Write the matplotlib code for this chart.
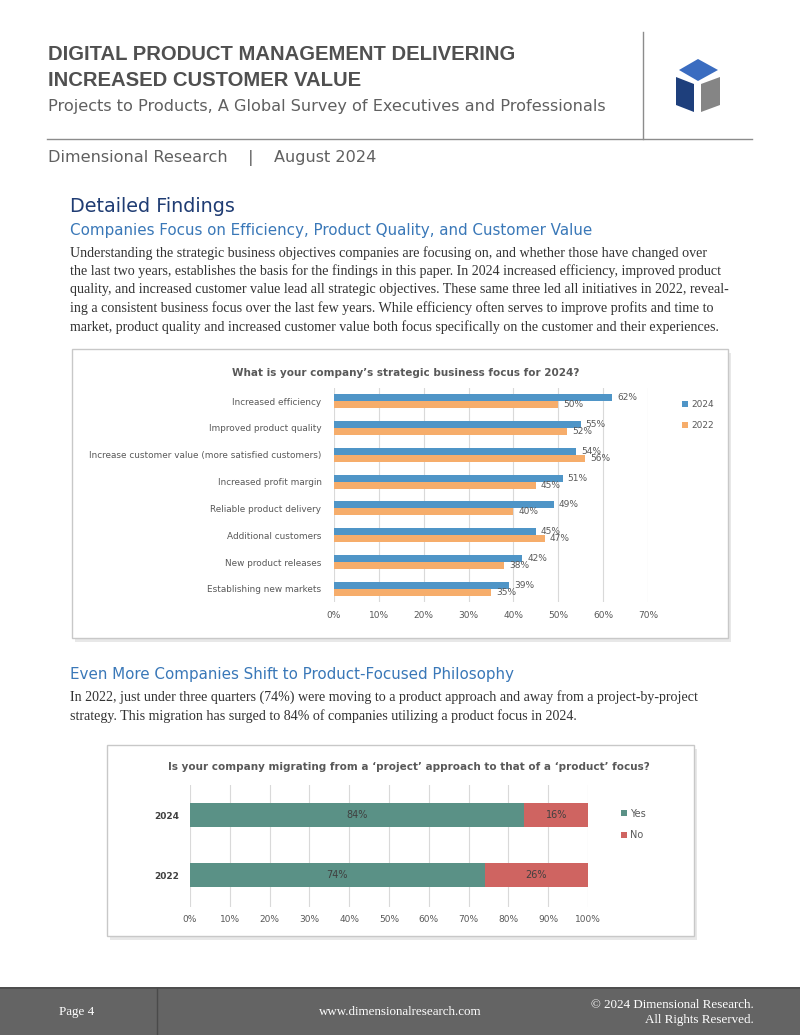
import matplotlib
matplotlib.use('Agg')
import matplotlib.pyplot as plt
from matplotlib import font_manager
from matplotlib.patches import Rectangle, Polygon
import numpy as np

# chart 1 data
focus_items = ['Increased efficiency', 'Improved product quality',
               'Increase customer value (more satisfied customers)',
               'Increased profit margin', 'Reliable product delivery',
               'Additional customers', 'New product releases',
               'Establishing new markets']
focus_2024 = [62, 55, 54, 51, 49, 45, 42, 39]
focus_2022 = [50, 52, 56, 45, 40, 47, 38, 35]

# chart 2 data
years = ['2024', '2022']
yes_share = [84, 74]
no_share = [16, 26]

W, H = 800, 1035


def fx(x):
    return x / W


def fy(y):
    return 1 - y / H


names = {f.name for f in font_manager.fontManager.ttflist}
narrow = 'Liberation Sans Narrow' if 'Liberation Sans Narrow' in names else 'Liberation Sans'
title_size = 15.5 if narrow == 'Liberation Sans Narrow' else 14.6
serif = 'Liberation Serif'
sans = 'DejaVu Sans'

fig = plt.figure(figsize=(8, 10.35), dpi=100)
fig.patch.set_facecolor('white')

# header
fig.text(fx(48), fy(55), 'DIGITAL PRODUCT MANAGEMENT DELIVERING', family=narrow,
         weight='bold', fontsize=title_size, color='#505050', va='center')
fig.text(fx(48), fy(80), 'INCREASED CUSTOMER VALUE', family=narrow,
         weight='bold', fontsize=title_size, color='#505050', va='center')
fig.text(fx(48), fy(107), 'Projects to Products, A Global Survey of Executives and Professionals',
         family=sans, fontsize=11.6, color='#606060', va='center')
fig.add_artist(plt.Line2D([fx(47), fx(752)], [fy(139), fy(139)], color='#8c8c8c', lw=1))
fig.add_artist(plt.Line2D([fx(643), fx(643)], [fy(32), fy(139)], color='#8c8c8c', lw=1))
fig.text(fx(48), fy(158), 'Dimensional Research    |    August 2024',
         family=sans, fontsize=11.6, color='#606060', va='center')

# logo cube
cube = [
    ([(698, 59), (718, 70), (698, 81), (679, 70)], '#3a6cc0'),
    ([(676, 77), (694, 84), (694, 112), (676, 105)], '#1e3f7c'),
    ([(720, 77), (701, 84), (701, 112), (720, 105)], '#858585'),
]
for pts, col in cube:
    fig.add_artist(Polygon([(fx(a), fy(b)) for a, b in pts], closed=True,
                           facecolor=col, edgecolor='none', transform=fig.transFigure))

# section texts
fig.text(fx(70), fy(207), 'Detailed Findings', family=sans, fontsize=13.8,
         color='#1f3c73', va='center')
fig.text(fx(70), fy(230), 'Companies Focus on Efficiency, Product Quality, and Customer Value',
         family=sans, fontsize=10.9, color='#3a78b8', va='center')
para1 = ['Understanding the strategic business objectives companies are focusing on, and whether those have changed over',
         'the last two years, establishes the basis for the findings in this paper. In 2024 increased efficiency, improved product',
         'quality, and increased customer value lead all strategic objectives. These same three led all initiatives in 2022, reveal-',
         'ing a consistent business focus over the last few years. While efficiency often serves to improve profits and time to',
         'market, product quality and increased customer value both focus specifically on the customer and their experiences.']
for i, line in enumerate(para1):
    fig.text(fx(70), fy(253 + i * 18.5), line, family=serif, fontsize=10.1,
             color='#333333', va='center')

fig.text(fx(70), fy(674), 'Even More Companies Shift to Product-Focused Philosophy',
         family=sans, fontsize=10.9, color='#3a78b8', va='center')
para2 = ['In 2022, just under three quarters (74%) were moving to a product approach and away from a project-by-project',
         'strategy. This migration has surged to 84% of companies utilizing a product focus in 2024.']
for i, line in enumerate(para2):
    fig.text(fx(70), fy(697 + i * 19.5), line, family=serif, fontsize=10.1,
             color='#333333', va='center')


def chart_box(x0, y0, x1, y1):
    fig.add_artist(Rectangle((fx(x0 + 3), fy(y1 + 4)), fx(x1 - x0), (y1 - y0) / H,
                             transform=fig.transFigure, facecolor='#e8e8e8',
                             edgecolor='none', zorder=0))
    fig.add_artist(Rectangle((fx(x0), fy(y1)), fx(x1 - x0), (y1 - y0) / H,
                             transform=fig.transFigure, facecolor='white',
                             edgecolor='#c8c8c8', lw=1, zorder=0.5))


chart_box(72, 349, 728, 638)
chart_box(107, 745, 694, 936)

grey = '#595959'

# chart 1
ax1 = fig.add_axes([fx(334), fy(602.4), fx(648 - 334), (602.4 - 387.6) / H])
ax1.set_zorder(2)
ax1.set_facecolor('none')
pos = np.arange(len(focus_items))
bh = 0.26
b24 = ax1.barh(pos - bh / 2, focus_2024, height=bh, color='#4f95c7', label='2024', zorder=2)
b22 = ax1.barh(pos + bh / 2, focus_2022, height=bh, color='#f6ad6b', label='2022', zorder=2)
for bars, vals in [(b24, focus_2024), (b22, focus_2022)]:
    for b, v in zip(bars, vals):
        ax1.annotate(f'{v}%', (v, b.get_y() + b.get_height() / 2), xytext=(3.5, 0),
                     textcoords='offset points', va='center', ha='left',
                     fontsize=6.5, color=grey, family=sans)
ax1.set_xlim(0, 70)
ax1.set_ylim(len(focus_items) - 0.5, -0.5)
ax1.set_xticks(range(0, 71, 10))
ax1.set_xticklabels([f'{t}%' for t in range(0, 71, 10)])
ax1.set_yticks(pos)
ax1.set_yticklabels(focus_items)
ax1.tick_params(length=0, labelsize=6.4, labelcolor=grey)
ax1.tick_params(axis='x', pad=6, labelsize=6.5)
ax1.tick_params(axis='y', pad=9)
ax1.grid(axis='x', color='#d9d9d9', lw=0.8, zorder=0)
for s in ax1.spines.values():
    s.set_visible(False)
fig.text(fx(406), fy(373), 'What is your company\u2019s strategic business focus for 2024?',
         family=sans, weight='bold', fontsize=7.5, color=grey, ha='center', va='center')
ax1.legend(handles=[b24, b22], loc='upper left', bbox_to_anchor=(fx(674), fy(392)),
           bbox_transform=fig.transFigure, frameon=False, fontsize=6.5,
           handlelength=0.6, handleheight=0.6, handletextpad=0.4, labelspacing=1.3,
           labelcolor=grey)

# chart 2
ax2 = fig.add_axes([fx(190), fy(907), fx(588 - 190), (907 - 785) / H])
ax2.set_zorder(2)
ax2.set_facecolor('none')
ypos = np.arange(len(years))
by = ax2.barh(ypos, yes_share, height=0.4, color='#5a9186', label='Yes', zorder=2)
bn = ax2.barh(ypos, no_share, left=yes_share, height=0.4, color='#cf6461', label='No', zorder=2)
for bars, vals in [(by, yes_share), (bn, no_share)]:
    for b, v in zip(bars, vals):
        ax2.text(b.get_x() + b.get_width() / 2, b.get_y() + b.get_height() / 2, f'{v}%',
                 ha='center', va='center', fontsize=7, color='#404040', family=sans)
ax2.set_xlim(0, 100)
ax2.set_ylim(1.533, -0.5)
ax2.set_xticks(range(0, 101, 10))
ax2.set_xticklabels([f'{t}%' for t in range(0, 101, 10)])
ax2.set_yticks(ypos)
ax2.set_yticklabels(years, fontweight='bold')
ax2.tick_params(length=0, labelsize=6.5, labelcolor=grey)
ax2.tick_params(axis='x', pad=6)
ax2.tick_params(axis='y', pad=8, labelcolor='#404040')
ax2.grid(axis='x', color='#d9d9d9', lw=0.8, zorder=0)
for s in ax2.spines.values():
    s.set_visible(False)
fig.text(fx(409), fy(767), 'Is your company migrating from a \u2018project\u2019 approach to that of a \u2018product\u2019 focus?',
         family=sans, weight='bold', fontsize=7.5, color=grey, ha='center', va='center')
ax2.legend(handles=[by, bn], loc='upper left', bbox_to_anchor=(fx(612), fy(800)),
           bbox_transform=fig.transFigure, frameon=False, fontsize=7,
           handlelength=0.6, handleheight=0.6, handletextpad=0.4, labelspacing=1.2,
           labelcolor=grey)

# footer
fig.add_artist(Rectangle((0, 0), 1, (1035 - 987) / H, transform=fig.transFigure,
                         facecolor='#646464', edgecolor='none'))
fig.add_artist(plt.Line2D([0, 1], [fy(987.5), fy(987.5)], color='#4a4a4a', lw=1.2))
fig.add_artist(plt.Line2D([fx(157), fx(157)], [0, fy(988)], color='#4a4a4a', lw=1))
fig.text(fx(77), fy(1012), 'Page 4', family=serif, fontsize=9.4, color='white',
         ha='center', va='center')
fig.text(fx(400), fy(1012), 'www.dimensionalresearch.com', family=serif, fontsize=9.4,
         color='white', ha='center', va='center')
fig.text(fx(754), fy(1005), '\u00a9 2024 Dimensional Research.', family=serif, fontsize=9.4,
         color='white', ha='right', va='center')
fig.text(fx(754), fy(1019.5), 'All Rights Reserved.', family=serif, fontsize=9.4,
         color='white', ha='right', va='center')

fig.savefig('out.png', dpi=100)
